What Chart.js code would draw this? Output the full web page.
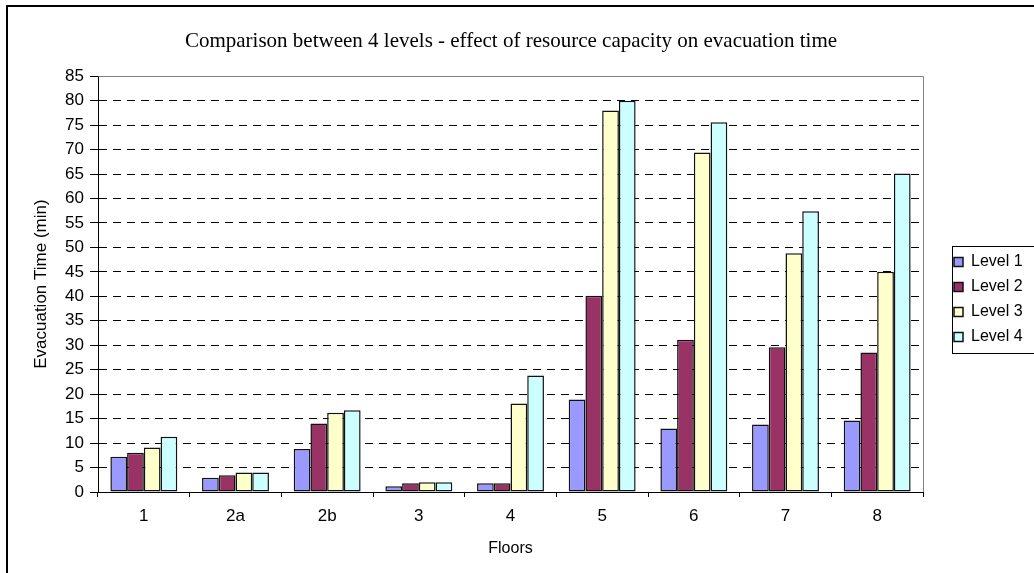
<!DOCTYPE html>
<html>
<head>
<meta charset="utf-8">
<script src="https://cdn.jsdelivr.net/npm/chart.js@4"></script>
<style>
body { margin: 0; background: #fff; }
#wrap { width: 1034px; height: 573px; position: relative; }
</style>
</head>
<body>
<div id="wrap"><canvas id="myChart"></canvas></div>
<script>
var floors = ['1', '2a', '2b', '3', '4', '5', '6', '7', '8'];
var level1 = [7.2, 2.9, 8.8, 1.2, 1.8, 18.9, 13.0, 13.8, 14.6];
var level2 = [8.0, 3.4, 14.0, 1.8, 1.8, 40.1, 31.1, 29.6, 28.5];
var level3 = [9.1, 4.0, 16.2, 2.0, 18.1, 78.0, 69.4, 48.8, 45.0];
var level4 = [11.3, 4.0, 16.7, 2.0, 23.8, 80.0, 75.6, 57.4, 65.1];
var seriesNames = ['Level 1', 'Level 2', 'Level 3', 'Level 4'];
var seriesColors = ['#9999FF', '#993366', '#FFFFCC', '#CCFFFF'];

var sans = 'Liberation Sans';
var ctx = document.getElementById('myChart').getContext('2d');

// extra drawing: plot frame, legend box, outer border
var frame = {
  id: 'frame',
  afterInit: function(chart) {
    var lg = chart.legend;
    var fit = lg.fit;
    lg.fit = function() {
      fit.call(this);
      this.width = 111;
    };
  },
  afterLayout: function(chart) {
    var lg = chart.legend;
    lg.left += 22;
    lg.width = lg.right - lg.left;
    lg.top += 26;
    lg.height = lg.bottom - lg.top;
    chart.titleBlock.left -= 6;
    chart.titleBlock.right -= 6;
  },
  afterDraw: function(chart) {
    var c = chart.ctx;
    var a = chart.chartArea;
    c.save();
    c.lineWidth = 1;
    c.strokeStyle = '#808080';
    c.beginPath();
    c.moveTo(Math.round(a.left) + 0.5, Math.round(a.top) + 0.5);
    c.lineTo(Math.round(a.right) + 0.5, Math.round(a.top) + 0.5);
    c.lineTo(Math.round(a.right) + 0.5, Math.round(a.bottom));
    c.stroke();

    var hb = chart.legend.legendHitBoxes;
    if (hb.length) {
      var top = hb[0].top - 8;
      var bottom = hb[hb.length - 1].top + hb[hb.length - 1].height + 8;
      c.strokeStyle = '#000';
      c.strokeRect(952.5, Math.round(top) + 0.5, 200, Math.round(bottom - top));
    }

    c.lineWidth = 2;
    c.strokeStyle = '#000';
    c.strokeRect(7, 6, 1100, 620);
    c.restore();
  }
};

var datasets = [level1, level2, level3, level4].map(function(d, i) {
  return {
    label: seriesNames[i],
    data: d,
    backgroundColor: seriesColors[i],
    borderColor: '#111',
    borderWidth: 1.5,
    borderSkipped: false,
    categoryPercentage: 0.73,
    barPercentage: 1.0
  };
});

var myChart = new Chart(ctx, {
  type: 'bar',
  data: {
    labels: floors,
    datasets: datasets
  },
  plugins: [frame],
  options: {
    responsive: true,
    maintainAspectRatio: false,
    animation: false,
    layout: { padding: 0 },
    plugins: {
      tooltip: { enabled: false },
      title: {
        display: true,
        text: 'Comparison between 4 levels - effect of resource capacity on evacuation time',
        color: '#000',
        font: { family: 'Liberation Serif', size: 21, weight: 'normal' },
        padding: { top: 29, bottom: 22 }
      },
      legend: {
        position: 'right',
        labels: {
          color: '#000',
          font: { family: sans, size: 16 },
          boxWidth: 9,
          boxHeight: 9,
          padding: 9
        }
      }
    },
    scales: {
      x: {
        ticks: { color: '#000', font: { family: sans, size: 17 }, padding: 9 },
        grid: { drawOnChartArea: false, color: '#000', tickLength: 5, offset: true },
        border: { color: '#000' },
        title: {
          display: true,
          text: 'Floors',
          color: '#000',
          font: { family: sans, size: 16 },
          padding: { top: 0, bottom: 15 }
        },
        afterFit: function(s) { s.height = 81; }
      },
      y: {
        min: 0,
        max: 85,
        ticks: { stepSize: 5, color: '#000', font: { family: sans, size: 17 }, padding: 6 },
        grid: {
          color: function(c) { return c.tick && c.tick.value === 85 ? 'rgba(0,0,0,0)' : '#000'; },
          tickColor: '#000',
          tickLength: 8,
          tickBorderDash: []
        },
        border: { color: '#000', dash: [8, 6] },
        title: {
          display: true,
          text: 'Evacuation Time (min)',
          color: '#000',
          font: { family: sans, size: 17 },
          padding: { top: 31, bottom: 0 }
        },
        afterFit: function(s) { s.width = 98; }
      }
    }
  }
});
</script>
</body>
</html>
